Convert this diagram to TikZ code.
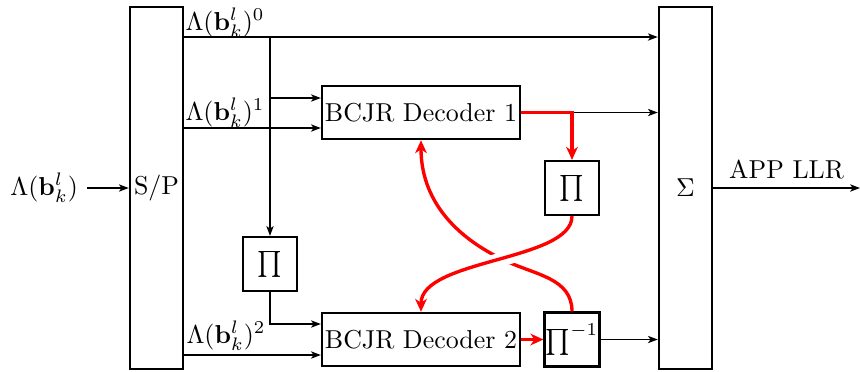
\documentclass[tikz,border=0pt]{standalone}
\usetikzlibrary{arrows.meta,calc}
\begin{document}
\begin{tikzpicture}[x=0.3861pt,y=-0.3861pt,
 blk/.style={draw,line width=0.9pt,inner sep=0.5pt},
 tall/.style={blk,minimum width=20.5pt,minimum height=139.8pt},
 dec/.style={blk,minimum width=76.4pt,minimum height=20.5pt},
 perm/.style={blk,minimum width=20.8pt,minimum height=20.8pt},
 conn/.style={line width=0.6pt,-{Stealth[length=3.8pt,width=2.8pt,inset=1pt]}},
 fb/.style={red,line width=1.3pt,-{Stealth[length=5pt,width=4.5pt,inset=1.5pt]}},
 halo/.style={white,line width=5.5pt},
 lbl/.style={anchor=base west,inner sep=0pt}]
\useasboundingbox (0,0) rectangle (860,371);

% blocks
\node[tall] (sp) at (156.5,188) {S/P};
\node[tall] (sig) at (685.5,188) {$\Sigma$};
\node[dec] (d1) at (421,112.5) {BCJR Decoder 1};
\node[dec] (d2) at (421,339.5) {BCJR Decoder 2};
\node[perm] (p1) at (572,188) {$\prod$};
\node[perm] (p2) at (270,264) {$\prod$};
\node[perm] (pinv) at (572,339.5) {$\prod^{-1}$};
\node[anchor=east] (in) at (87,188) {$\Lambda(\mathbf{b}_k^l)$};

% helper rows / columns
\coordinate (r0) at (0,37);
\coordinate (r1) at (0,98);
\coordinate (r2) at (0,128);
\coordinate (r4) at (0,324);
\coordinate (r5) at (0,355);
\coordinate (bx) at (270,0);
\coordinate (out) at (860,188);
\coordinate (m) at (506,261);
\coordinate (x) at (504,259);

% labels
\node[lbl] (l0) at (185,30) {$\Lambda(\mathbf{b}_k^l)^0$};
\node[lbl] (l1) at (185,120) {$\Lambda(\mathbf{b}_k^l)^1$};
\node[lbl] (l2) at (186,343) {$\Lambda(\mathbf{b}_k^l)^2$};

% black connectors
\draw[conn] (in) -- (sp);
\draw[conn] (sp.east |- r0) -- (sig.west |- r0);
\draw[conn] (bx |- r0) -- (p2.north);
\draw[conn] (bx |- r1) -- (d1.west |- r1);
\draw[conn] (sp.east |- r2) -- (d1.west |- r2);
\draw[conn] (p2.south) |- (d2.west |- r4);
\draw[conn] (sp.east |- r5) -- (d2.west |- r5);
\draw[conn] (pinv.east) -- (sig.west |- pinv.east);
\draw[conn] (p1.north |- d1.east) -- (sig.west |- d1.east);
\draw[conn] (sig.east) -- node[above] (app) {APP LLR} (out);

% red feedback
\draw[fb] (d1.east) -| (p1.north);
\draw[fb] (d2.east) -- (pinv.west);
\draw[fb] (pinv.north) .. controls +(0,-33) and (536,275) .. (m)
      .. controls (453,236.5) and +(0,58) .. (d1.south);
\begin{scope}
  \clip (x) circle (11pt);
  \draw[halo] (p1.south) .. controls +(0,45) and +(0,-53) .. (d2.north);
\end{scope}
\draw[fb] (p1.south) .. controls +(0,45) and +(0,-53) .. (d2.north);
\end{tikzpicture}
\end{document}
